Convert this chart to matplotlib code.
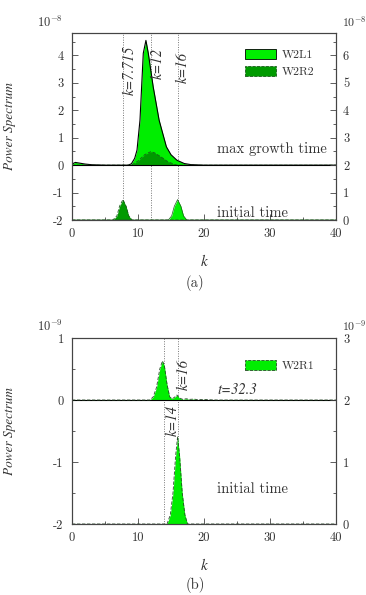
import numpy as np
import matplotlib.pyplot as plt
from matplotlib.patches import Patch

plt.rcParams['mathtext.fontset'] = 'cm'
plt.rcParams['font.family'] = 'cmr10'
plt.rcParams['axes.unicode_minus'] = False

# ---- panel (a): max growth time (left scale, 1e-8)
k_l1_max = [0, 0.5, 1, 2, 3, 5, 8.5, 9.0, 9.5, 9.85, 10.3, 10.55, 10.8, 11.2, 11.56, 12.3, 13.2, 14.3, 15.0, 15.9, 17.0, 18.0, 20.0, 40]
ps_l1_max = [0.04, 0.1, 0.08, 0.04, 0.015, 0.0, 0.0, 0.05, 0.25, 0.55, 1.64, 2.86, 4.08, 4.55, 4.08, 2.86, 1.64, 0.67, 0.38, 0.18, 0.06, 0.02, 0.0, 0.0]
k_r2_max = [0, 9.0, 10.0, 11.0, 11.9, 12.5, 13.5, 14.5, 15.5, 16.0, 40]
ps_r2_max = [0, 0.0, 0.15, 0.38, 0.49, 0.45, 0.3, 0.13, 0.03, 0.0, 0]
# ---- panel (a): initial time (right scale, 1e-8)
k_r2_init = [0, 6.2, 6.8, 7.2, 7.715, 8.2, 8.6, 9.1, 40]
ps_r2_init = [0, 0, 0.15, 0.5, 0.745, 0.5, 0.15, 0, 0]
k_l1_init = [0, 14.6, 15.1, 15.5, 16.0, 16.5, 16.9, 17.4, 40]
ps_l1_init = [0, 0, 0.15, 0.5, 0.745, 0.5, 0.15, 0, 0]
marks_a = [7.715, 12, 16]

# ---- panel (b): t=32.3 (left scale, 1e-9)
k_r1_t = [0, 11.8, 12.3, 12.8, 13.3, 13.7, 14.0, 14.4, 14.8, 15.2, 15.6, 15.9, 16.3, 16.8, 17.3, 17.8, 18.5, 19.0, 20.0, 21.0, 22.0, 40]
ps_r1_t = [0, 0, 0.05, 0.2, 0.5, 0.63, 0.55, 0.25, 0.05, 0.02, 0.05, 0.08, 0.03, 0.01, 0.02, 0.01, 0.015, 0.005, 0.01, 0.003, 0, 0]
# ---- panel (b): initial time (right scale, 1e-9)
k_r1_init = [0, 14.4, 14.9, 15.3, 15.7, 16.0, 16.3, 16.7, 17.1, 17.5, 40]
ps_r1_init = [0, 0, 0.15, 0.5, 1.1, 1.41, 1.1, 0.5, 0.15, 0, 0]
marks_b = [14, 16]

bright = '#00ee00'
dark = '#009a00'
gray = '#444444'
txt = '#333333'
TS = 9  # tick label size

W, H = 366, 595
fig = plt.figure(figsize=(W / 100, H / 100), dpi=100)


def make_axes(left, top, right, bottom, ylo, yhi):
    ax = fig.add_axes([left / W, 1 - bottom / H, (right - left) / W, (bottom - top) / H])
    ax.set_xlim(0, 40)
    ax.set_ylim(ylo, yhi)
    for s in ax.spines.values():
        s.set_color(gray)
        s.set_linewidth(0.8)
    ax.set_xticks([0, 10, 20, 30, 40], labels=['0', '10', '20', '30', '40'])
    ax.set_xticks([5, 15, 25, 35], minor=True)
    ax.tick_params(axis='both', which='both', direction='in', colors=gray,
                   labelcolor=txt, labelsize=TS, width=0.6, pad=6)
    ax.tick_params(axis='both', which='major', length=4)
    ax.tick_params(axis='both', which='minor', length=2.5)
    ax.axhline(0, color='black', lw=0.8, zorder=4)
    ax2 = ax.twinx()
    ax2.set_ylim(ylo + 2, yhi + 2)
    for s in ax2.spines.values():
        s.set_color(gray)
        s.set_linewidth(0.8)
    ax2.tick_params(axis='y', which='both', direction='in', colors=gray,
                    labelcolor=txt, labelsize=TS, width=0.6, pad=5)
    ax2.tick_params(axis='y', which='major', length=4)
    ax2.tick_params(axis='y', which='minor', length=2.5)
    ax.set_xlabel('k', family='STIXGeneral', style='italic', fontsize=11, labelpad=10, color=txt)
    ax.set_ylabel('Power Spectrum', family='STIXGeneral', style='italic', fontsize=9.5,
                  labelpad=0, color=txt)
    ax.yaxis.set_label_coords(-56 / (right - left), 0.5)
    return ax, ax2


ital = dict(family='STIXGeneral', style='italic', color=txt)

# ================= panel (a)
ax, ax2 = make_axes(72, 33, 336, 220, -2, 4.82)
ax.set_yticks([-2, -1, 0, 1, 2, 3, 4], labels=['-2', '-1', '0', '1', '2', '3', '4'])
ax.set_yticks(np.arange(-1.5, 4.8, 1.0), minor=True)
ax2.set_yticks(range(7), labels=[str(i) for i in range(7)])
ax2.set_yticks(np.arange(0.5, 6.8, 1.0), minor=True)

ax.fill_between(k_l1_max, 0, ps_l1_max, color=bright, lw=0, zorder=2)
ax.plot(k_l1_max, ps_l1_max, color='black', lw=0.8, zorder=3)
ax.fill_between(k_r2_max, 0, ps_r2_max, color=dark, lw=0, zorder=3)
ax.plot(k_r2_max, ps_r2_max, color='#1a5a1a', lw=0.6, ls=(0, (4, 2)), zorder=3)
base = -2
ax.fill_between(k_r2_init, base, base + np.array(ps_r2_init), color=dark, lw=0, zorder=2)
ax.plot(k_r2_init, base + np.array(ps_r2_init), color='#1a5a1a', lw=0.6, ls=(0, (4, 2)), zorder=3)
ax.fill_between(k_l1_init, base, base + np.array(ps_l1_init), color=bright, lw=0, zorder=2)
ax.plot(k_l1_init, base + np.array(ps_l1_init), color='#1a5a1a', lw=0.5, zorder=3)
for m in marks_a:
    ax.axvline(m, color='#777777', lw=0.7, ls=(0, (1, 1.5)), zorder=1)

ax.text(8.8, 3.45, r'k=7.715', rotation=90, ha='center', va='center', fontsize=10.5, **ital)
ax.text(13.0, 3.7, r'k=12', rotation=90, ha='center', va='center', fontsize=10.5, **ital)
ax.text(16.8, 3.55, r'k=16', rotation=90, ha='center', va='center', fontsize=10.5, **ital)
ax.text(22, 0.58, 'max growth time', fontsize=10.5, color=txt, va='center')
ax.text(22, -1.75, 'initial time', fontsize=10.5, color=txt, va='center')

handles_a = [Patch(facecolor=bright, edgecolor='black', lw=0.6),
             Patch(facecolor=dark, edgecolor='#1a5a1a', lw=0.6, ls='--')]
ax.legend(handles_a, ['W2L1', 'W2R2'], loc='upper left', bbox_to_anchor=(0.655, 0.915),
          frameon=False, fontsize=8.5, handlelength=2.6, handleheight=0.9,
          handletextpad=0.5, labelspacing=0.55, borderpad=0, borderaxespad=0,
          labelcolor=txt)

fig.text(37 / W, 1 - 22 / H, r'$10^{-8}$', fontsize=9, color=txt, va='center')
fig.text(342 / W, 1 - 22 / H, r'$10^{-8}$', fontsize=8.5, color=txt, va='center')
fig.text(195 / W, 1 - 283 / H, '(a)', fontsize=10.5, color=txt, ha='center', va='center')

# ================= panel (b)
bx, bx2 = make_axes(72, 338, 336, 524, -2, 1)
bx.set_yticks([-2, -1, 0, 1], labels=['-2', '-1', '0', '1'])
bx.set_yticks([-1.5, -0.5, 0.5], minor=True)
bx2.set_yticks(range(4), labels=[str(i) for i in range(4)])
bx2.set_yticks([0.5, 1.5, 2.5], minor=True)

bx.fill_between(k_r1_t, 0, ps_r1_t, color=bright, lw=0, zorder=2)
bx.plot(k_r1_t, ps_r1_t, color='#2a4a2a', lw=0.6, ls=(0, (4, 2)), zorder=5)
bx.fill_between(k_r1_init, -2, -2 + np.array(ps_r1_init), color=bright, lw=0, zorder=2)
bx.plot(k_r1_init, -2 + np.array(ps_r1_init), color='#2a4a2a', lw=0.6, ls=(0, (4, 2)), zorder=5)
for m in marks_b:
    bx.axvline(m, color='#777777', lw=0.7, ls=(0, (1, 1.5)), zorder=1)

bx.text(15.2, -0.33, r'k=14', rotation=90, ha='center', va='center', fontsize=10.5, **ital)
bx.text(17.0, 0.42, r'k=16', rotation=90, ha='center', va='center', fontsize=10.5, **ital)
bx.text(22, 0.17, r't=32.3', fontsize=10.5, va='center', **ital)
bx.text(22, -1.43, 'initial time', fontsize=10.5, color=txt, va='center')

handles_b = [Patch(facecolor=bright, edgecolor='#2a4a2a', lw=0.6, ls='--')]
bx.legend(handles_b, ['W2R1'], loc='upper left', bbox_to_anchor=(0.655, 0.88),
          frameon=False, fontsize=8.5, handlelength=2.6, handleheight=0.9,
          handletextpad=0.5, borderpad=0, borderaxespad=0, labelcolor=txt)

fig.text(37 / W, 1 - 326 / H, r'$10^{-9}$', fontsize=9, color=txt, va='center')
fig.text(342 / W, 1 - 326 / H, r'$10^{-9}$', fontsize=8.5, color=txt, va='center')
fig.text(195 / W, 1 - 585 / H, '(b)', fontsize=10.5, color=txt, ha='center', va='center')

fig.savefig('out.png', dpi=100, facecolor='white')
